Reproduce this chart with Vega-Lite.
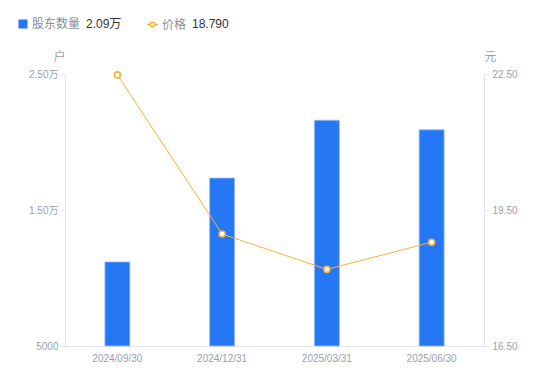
{
  "$schema": "https://vega.github.io/schema/vega-lite/v6.json",
  "autosize": {"type": "none"},
  "width": 419,
  "height": 272,
  "padding": {"left": 65, "top": 74, "right": 66, "bottom": 35},
  "background": "white",
  "config": {
    "font": "Liberation Sans, Noto Sans CJK SC",
    "view": {"stroke": null},
    "axis": {"grid": false}
  },
  "data": {
    "values": [
      {"date": "2024/09/30", "count": 11180, "price": 22.48},
      {"date": "2024/12/31", "count": 17350, "price": 18.97},
      {"date": "2025/03/31", "count": 21600, "price": 18.19},
      {"date": "2025/06/30", "count": 20900, "price": 18.79}
    ]
  },
  "encoding": {
    "x": {
      "field": "date",
      "type": "ordinal",
      "sort": null,
      "axis": {
        "title": null,
        "labelAngle": 0,
        "ticks": false,
        "domainColor": "#e6e6e6",
        "labelColor": "#9a9fab",
        "labelFontSize": 10,
        "labelPadding": 7
      }
    }
  },
  "layer": [
    {
      "mark": {"type": "bar", "size": 25, "stroke": "#9cc0f8", "strokeWidth": 0.8, "fillOpacity": 1},
      "encoding": {
        "y": {
          "field": "count",
          "type": "quantitative",
          "scale": {"domain": [5000, 25000], "nice": false, "zero": false},
          "axis": {
            "orient": "left",
            "values": [5000, 15000, 25000],
            "labelExpr": "datum.value >= 10000 ? format(datum.value / 10000, '.2f') + '万' : datum.value",
            "domainColor": "#e6e6e6",
            "tickColor": "#e6e6e6",
            "tickSize": 5,
            "labelPadding": 2,
            "labelColor": "#9a9fab",
            "labelFontSize": 10,
            "title": "户",
            "titleAngle": 0,
            "titleX": -6,
            "titleY": -11,
            "titleAlign": "center",
            "titleBaseline": "bottom",
            "titleColor": "#9a9fab",
            "titleFontSize": 12,
            "titleFontWeight": "normal"
          }
        },
        "y2": {"datum": 5000},
        "color": {
          "datum": "股东数量",
          "scale": {"range": ["#2677f3"]},
          "legend": {
            "orient": "none",
            "legendX": -48,
            "legendY": -56,
            "direction": "horizontal",
            "symbolType": "square",
            "symbolSize": 81,
            "symbolStrokeWidth": 0,
            "labelFontSize": 12,
            "labelColor": "#8a8f99",
            "labelOffset": 3,
            "title": "2.09万",
            "titleOrient": "right",
            "titleColor": "#333333",
            "titleFontSize": 12,
            "titleFontWeight": "normal",
            "titlePadding": 6
          }
        }
      }
    },
    {
      "mark": {"type": "line", "strokeWidth": 1},
      "encoding": {
        "y": {
          "field": "price",
          "type": "quantitative",
          "scale": {"domain": [16.5, 22.5], "nice": false, "zero": false},
          "axis": {
            "orient": "right",
            "values": [16.5, 19.5, 22.5],
            "format": ".2f",
            "domainColor": "#e6e6e6",
            "tickColor": "#e6e6e6",
            "tickSize": 5,
            "labelPadding": 3,
            "labelColor": "#9a9fab",
            "labelFontSize": 10,
            "title": "元",
            "titleAngle": 0,
            "titleX": 6,
            "titleY": -11,
            "titleAlign": "center",
            "titleBaseline": "bottom",
            "titleColor": "#9a9fab",
            "titleFontSize": 12,
            "titleFontWeight": "normal"
          }
        },
        "stroke": {
          "datum": "价格",
          "scale": {"range": ["#f7b23b"]},
          "legend": {
            "orient": "none",
            "legendX": 81,
            "legendY": -56,
            "direction": "horizontal",
            "symbolType": "M-1,0L-0.42,0M0.42,0L1,0M-0.42,0A0.42,0.42 0 1,1 0.42,0A0.42,0.42 0 1,1 -0.42,0Z",
            "symbolSize": 121,
            "symbolStrokeWidth": 1.5,
            "symbolFillColor": "white",
            "labelFontSize": 12,
            "labelColor": "#8a8f99",
            "labelOffset": 3,
            "title": "18.790",
            "titleOrient": "right",
            "titleColor": "#333333",
            "titleFontSize": 12,
            "titleFontWeight": "normal",
            "titlePadding": 6
          }
        }
      }
    },
    {
      "mark": {"type": "point", "shape": "circle", "size": 36, "filled": false, "fill": "white", "fillOpacity": 1, "strokeWidth": 1.6, "opacity": 1},
      "encoding": {
        "y": {"field": "price", "type": "quantitative", "scale": {"domain": [16.5, 22.5], "nice": false, "zero": false}, "axis": null},
        "stroke": {"datum": "价格", "scale": {"range": ["#f7b23b"]}}
      }
    }
  ],
  "resolve": {"scale": {"y": "independent"}}
}
